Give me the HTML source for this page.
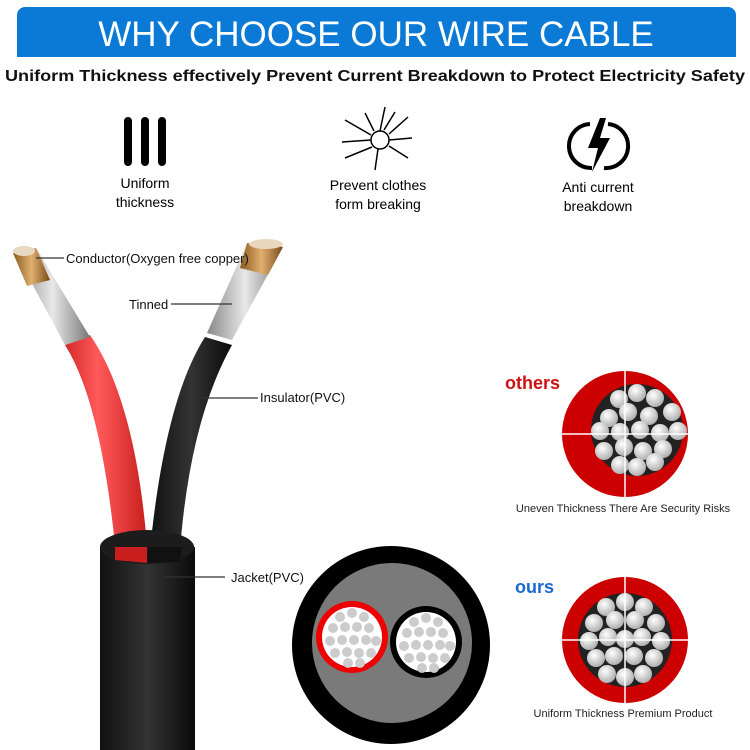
<!DOCTYPE html>
<html><head><meta charset="utf-8"><style>
html,body{margin:0;padding:0;background:#fff;}
svg{display:block;}
text{font-family:"Liberation Sans",sans-serif;}
</style></head><body>
<svg width="750" height="750" viewBox="0 0 750 750" xmlns="http://www.w3.org/2000/svg">
<defs>
<linearGradient id="red" x1="0" x2="1"><stop offset="0" stop-color="#d42a2a"/><stop offset="0.4" stop-color="#ff5a5a"/><stop offset="1" stop-color="#c81e1e"/></linearGradient>
<linearGradient id="blk" x1="0" x2="1"><stop offset="0" stop-color="#111"/><stop offset="0.5" stop-color="#333"/><stop offset="1" stop-color="#0a0a0a"/></linearGradient>
<linearGradient id="tin" x1="0" x2="1"><stop offset="0" stop-color="#888"/><stop offset="0.5" stop-color="#e8e8e8"/><stop offset="1" stop-color="#777"/></linearGradient>
<linearGradient id="cu" x1="0" x2="1"><stop offset="0" stop-color="#8a5a20"/><stop offset="0.5" stop-color="#e0b070"/><stop offset="1" stop-color="#7a4a18"/></linearGradient>
<radialGradient id="st" cx="0.4" cy="0.35" r="0.7"><stop offset="0" stop-color="#fff"/><stop offset="1" stop-color="#aaa"/></radialGradient>
</defs>
<rect x="17" y="7" width="719" height="50" rx="8" fill="#0a7ad6"/>
<rect x="17" y="40" width="719" height="17" fill="#0a7ad6"/>
<text x="376" y="46" font-size="35" fill="#fff" text-anchor="middle">WHY CHOOSE OUR WIRE CABLE</text>
<text x="375" y="81" font-size="16" font-weight="bold" fill="#111" text-anchor="middle" textLength="740" lengthAdjust="spacingAndGlyphs">Uniform Thickness effectively Prevent Current Breakdown to Protect Electricity Safety</text>
<g stroke="#000" stroke-width="8" stroke-linecap="round"><line x1="128" y1="121" x2="128" y2="162"/><line x1="145" y1="121" x2="145" y2="162"/><line x1="162" y1="121" x2="162" y2="162"/></g>
<text x="145" y="188" font-size="14" text-anchor="middle">Uniform</text>
<text x="145" y="207" font-size="14" text-anchor="middle">thickness</text>
<g stroke="#000" stroke-width="1.5" fill="none"><circle cx="380" cy="140" r="9"/><path d="M371 135 L345 120 M389 134 L408 117 M389 146 L408 158 M372 147 L345 158 M380 131 L385 107 M378 149 L375 170 M371 140 L342 142 M389 140 L412 138 M384 130 L395 112 M374 131 L365 113"/></g>
<text x="378" y="190" font-size="14" text-anchor="middle">Prevent clothes</text>
<text x="378" y="209" font-size="14" text-anchor="middle">form breaking</text>
<g fill="none" stroke="#000" stroke-width="4"><path d="M590 124 A22 22 0 0 0 592 168"/><path d="M608 124 A22 22 0 0 1 604 168"/></g>
<path d="M600 118 L588 148 L598 148 L592 172 L610 138 L600 138 L606 118 Z" fill="#000"/>
<text x="598" y="192" font-size="14" text-anchor="middle">Anti current</text>
<text x="598" y="211" font-size="14" text-anchor="middle">breakdown</text>
<!-- red wire -->
<path d="M65 345 Q100 400 115 545 L147 545 Q135 400 90 335 Z" fill="url(#red)"/>
<path d="M15 252 L36 248 L90 337 L65 345 Z" fill="url(#tin)"/>
<path d="M13 253 L36 248 L50 280 L27 286 Z" fill="url(#cu)"/>
<ellipse cx="24" cy="251" rx="11" ry="5" fill="#e8d8c0"/>
<!-- black wire -->
<path d="M205 337 Q165 400 150 550 L180 550 Q190 420 232 345 Z" fill="url(#blk)"/>
<path d="M247 243 L283 247 L232 340 L207 333 Z" fill="url(#tin)"/>
<path d="M247 243 L283 247 L268 275 L240 268 Z" fill="url(#cu)"/>
<ellipse cx="266" cy="244" rx="17" ry="5" fill="#e8d8c0"/>
<!-- jacket -->
<rect x="100" y="547" width="95" height="203" fill="url(#blk)"/>
<ellipse cx="147" cy="547" rx="47" ry="17" fill="#1c1c1c"/>
<path d="M115 547 L147 547 L147 563 L115 560 Z" fill="#c81e1e"/>
<path d="M148 547 L182 547 L180 562 L148 563 Z" fill="#111"/>
<!-- label lines -->
<g stroke="#333" stroke-width="1.2"><line x1="36" y1="258" x2="64" y2="258"/><line x1="171" y1="304" x2="232" y2="304"/><line x1="202" y1="398" x2="258" y2="398"/><line x1="163" y1="577" x2="225" y2="577"/></g>
<g font-size="13" fill="#111">
<text x="66" y="263">Conductor(Oxygen free copper)</text>
<text x="129" y="309">Tinned</text>
<text x="260" y="402">Insulator(PVC)</text>
<text x="231" y="582">Jacket(PVC)</text>
</g>
<!-- cross section -->
<circle cx="391" cy="645" r="99" fill="#000"/>
<circle cx="392" cy="643" r="80" fill="#7a7a7a"/>
<circle cx="352" cy="637" r="36" fill="#e00"/>
<circle cx="352" cy="637" r="30" fill="#fff"/>
<circle cx="426" cy="642" r="36" fill="#000"/>
<circle cx="426" cy="642" r="30" fill="#fff"/>
<g fill="#ccc">
<circle cx="340" cy="617" r="5"/><circle cx="352" cy="613" r="5"/><circle cx="364" cy="617" r="5"/><circle cx="333" cy="628" r="5"/><circle cx="345" cy="627" r="5"/><circle cx="357" cy="627" r="5"/><circle cx="369" cy="628" r="5"/><circle cx="330" cy="641" r="5"/><circle cx="342" cy="640" r="5"/><circle cx="354" cy="640" r="5"/><circle cx="366" cy="640" r="5"/><circle cx="376" cy="641" r="5"/><circle cx="335" cy="653" r="5"/><circle cx="347" cy="652" r="5"/><circle cx="359" cy="653" r="5"/><circle cx="371" cy="653" r="5"/><circle cx="348" cy="663" r="5"/><circle cx="360" cy="663" r="5"/>
<circle cx="414" cy="622" r="5"/><circle cx="426" cy="618" r="5"/><circle cx="438" cy="622" r="5"/><circle cx="407" cy="633" r="5"/><circle cx="419" cy="632" r="5"/><circle cx="431" cy="632" r="5"/><circle cx="443" cy="633" r="5"/><circle cx="404" cy="646" r="5"/><circle cx="416" cy="645" r="5"/><circle cx="428" cy="645" r="5"/><circle cx="440" cy="645" r="5"/><circle cx="450" cy="646" r="5"/><circle cx="409" cy="658" r="5"/><circle cx="421" cy="657" r="5"/><circle cx="433" cy="658" r="5"/><circle cx="445" cy="658" r="5"/><circle cx="422" cy="668" r="5"/><circle cx="434" cy="668" r="5"/>
</g>
<!-- others -->
<text x="505" y="389" font-size="18" font-weight="bold" fill="#d01010">others</text>
<circle cx="625" cy="434" r="63" fill="#c00"/>
<circle cx="637" cy="430" r="46" fill="#222"/>
<g fill="url(#st)">
<circle cx="637" cy="393" r="9"/><circle cx="655" cy="398" r="9"/><circle cx="619" cy="399" r="9"/><circle cx="672" cy="412" r="9"/><circle cx="649" cy="416" r="9"/><circle cx="628" cy="412" r="9"/><circle cx="609" cy="418" r="9"/><circle cx="600" cy="431" r="9"/><circle cx="620" cy="432" r="9"/><circle cx="640" cy="430" r="9"/><circle cx="660" cy="433" r="9"/><circle cx="678" cy="431" r="9"/><circle cx="604" cy="451" r="9"/><circle cx="624" cy="447" r="9"/><circle cx="643" cy="451" r="9"/><circle cx="663" cy="449" r="9"/><circle cx="620" cy="465" r="9"/><circle cx="637" cy="467" r="9"/><circle cx="655" cy="462" r="9"/>
</g>
<g stroke="#fff" stroke-width="1.5"><line x1="625" y1="370" x2="625" y2="498"/><line x1="561" y1="434" x2="689" y2="434"/></g>
<text x="623" y="512" font-size="11" fill="#222" text-anchor="middle">Uneven Thickness There Are Security Risks</text>
<!-- ours -->
<text x="515" y="593" font-size="18" font-weight="bold" fill="#1a6ad0">ours</text>
<circle cx="625" cy="640" r="63" fill="#c00"/>
<circle cx="625" cy="640" r="47" fill="#222"/>
<g fill="url(#st)">
<circle cx="625" cy="602" r="9"/><circle cx="606" cy="607" r="9"/><circle cx="644" cy="607" r="9"/><circle cx="594" cy="623" r="9"/><circle cx="615" cy="620" r="9"/><circle cx="635" cy="620" r="9"/><circle cx="656" cy="623" r="9"/><circle cx="589" cy="641" r="9"/><circle cx="608" cy="637" r="9"/><circle cx="625" cy="639" r="9"/><circle cx="642" cy="637" r="9"/><circle cx="661" cy="641" r="9"/><circle cx="596" cy="658" r="9"/><circle cx="614" cy="656" r="9"/><circle cx="634" cy="656" r="9"/><circle cx="654" cy="658" r="9"/><circle cx="607" cy="674" r="9"/><circle cx="625" cy="677" r="9"/><circle cx="643" cy="674" r="9"/>
</g>
<g stroke="#fff" stroke-width="1.5"><line x1="625" y1="576" x2="625" y2="704"/><line x1="561" y1="640" x2="689" y2="640"/></g>
<text x="623" y="717" font-size="11" fill="#222" text-anchor="middle">Uniform Thickness Premium Product</text>
</svg>
</body></html>
